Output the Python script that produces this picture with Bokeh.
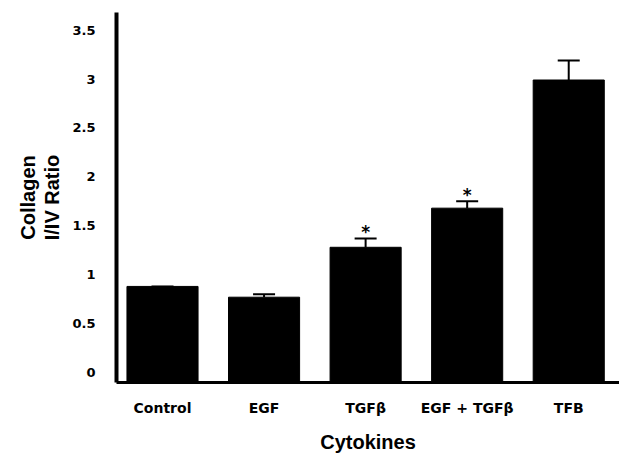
from bokeh.plotting import figure
from bokeh.models import Range1d, FixedTicker, Whisker, ColumnDataSource, TeeHead
from bokeh.embed import file_html
from bokeh.resources import INLINE
from bokeh.core.properties import value

# ---- data ----
categories = ["Control", "EGF", "TGF\u03b2", "EGF + TGF\u03b2", "TFB"]
ratios = [0.88, 0.77, 1.28, 1.68, 2.99]
sem = [0.0, 0.03, 0.09, 0.07, 0.20]
significant = [False, False, True, True, False]
y_ticks = [0, 0.5, 1, 1.5, 2, 2.5, 3, 3.5]
y_tick_labels = ["0", "0.5", "1", "1.5", "2", "2.5", "3", "3.5"]

xs = list(range(len(categories)))
upper = [r + s for r, s in zip(ratios, sem)]

BASE = -0.102
TICK_FONT = "DejaVu Sans"
TITLE_FONT = "Liberation Sans"

p = figure(width=619, height=455,
           x_range=Range1d(-0.453, 4.50), y_range=Range1d(BASE, 3.68),
           output_backend="svg", toolbar_location=None,
           min_border_left=116, min_border_right=0,
           min_border_top=12, min_border_bottom=73)

p.vbar(x=xs, top=ratios, bottom=BASE, width=0.70,
       fill_color="black", line_color="black")

src = ColumnDataSource(dict(x=xs, lower=ratios, upper=upper))
w = Whisker(source=src, base="x", lower="lower", upper="upper",
            dimension="height", line_width=2, line_color="black",
            lower_head=None,
            upper_head=TeeHead(size=22, line_width=2, line_color="black"))
p.add_layout(w)

sx = [x for x, s in zip(xs, significant) if s]
sy = [u for u, s in zip(upper, significant) if s]
p.text(x=sx, y=sy, text=["*"] * len(sx), text_align="center",
       text_baseline="bottom", y_offset=4,
       text_font=value(TICK_FONT), text_font_style="bold",
       text_font_size="17px", text_color="black")

# axes
p.xaxis.ticker = FixedTicker(ticks=xs)
p.xaxis.major_label_overrides = {x: c for x, c in zip(xs, categories)}
p.yaxis.ticker = FixedTicker(ticks=y_ticks)
p.yaxis.major_label_overrides = {t: l for t, l in zip(y_ticks, y_tick_labels)}

for ax in (p.xaxis, p.yaxis):
    ax.major_tick_line_color = None
    ax.minor_tick_line_color = None
    ax.axis_line_color = "black"
    ax.major_label_text_font = TICK_FONT
    ax.major_label_text_font_style = "bold"
    ax.major_label_text_color = "black"
    ax.axis_label_text_font = TITLE_FONT
    ax.axis_label_text_font_style = "bold"
    ax.axis_label_text_color = "black"
    ax.axis_label_text_font_size = "20px"

p.yaxis.axis_line_width = 4
p.yaxis.major_label_text_font_size = "13px"
p.yaxis.major_label_standoff = 15
p.yaxis.axis_label = "Collagen\nI/IV Ratio"
p.yaxis.axis_label_text_line_height = 1.1
p.yaxis.axis_label_standoff = 6

p.xaxis.axis_line_width = 3
p.xaxis.major_label_text_font_size = "14px"
p.xaxis.major_label_standoff = 11
p.xaxis.axis_label = "Cytokines"
p.xaxis.axis_label_standoff = 12

p.xgrid.grid_line_color = None
p.ygrid.grid_line_color = None
p.outline_line_color = None
p.background_fill_color = "white"
p.border_fill_color = "white"

open("out.html", "w").write(file_html(p, INLINE))
